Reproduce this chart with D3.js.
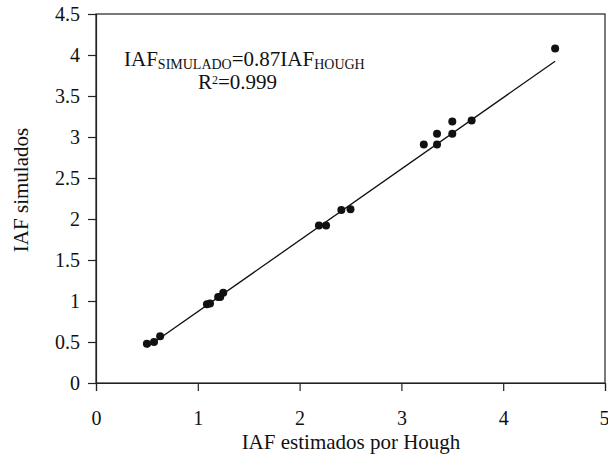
<!DOCTYPE html>
<html>
<head>
<meta charset="utf-8">
<script src="https://cdn.jsdelivr.net/npm/d3@7"></script>
<style>
  body { margin: 0; background: #fff; }
  svg text { font-family: 'Liberation Serif', 'Times New Roman', serif; fill: #111; }
</style>
</head>
<body>
<div id="chart"></div>
<script>
// IAF estimated by Hough vs simulated
var hough    = [0.50, 0.57, 0.63, 1.09, 1.12, 1.20, 1.22, 1.25, 2.19, 2.26, 2.41, 2.50, 3.22, 3.35, 3.35, 3.50, 3.50, 3.69, 4.51];
var simulado = [0.48, 0.50, 0.57, 0.96, 0.97, 1.05, 1.05, 1.10, 1.92, 1.92, 2.11, 2.12, 2.91, 2.91, 3.04, 3.04, 3.19, 3.20, 4.08];
var slope = 0.87;
var xTicks = [0, 1, 2, 3, 4, 5];
var yTicks = [0, 0.5, 1, 1.5, 2, 2.5, 3, 3.5, 4, 4.5];

var margin = {top: 14, right: 3, bottom: 76, left: 96},
    W = 608, H = 459,
    width = W - margin.left - margin.right,
    height = H - margin.top - margin.bottom;

var svg = d3.select("#chart").append("svg")
    .attr("width", W)
    .attr("height", H);

var g = svg.append("g")
    .attr("transform", "translate(" + margin.left + "," + margin.top + ")");

var x = d3.scaleLinear().domain([0, 5]).range([0, width]);
var y = d3.scaleLinear().domain([0, 4.5]).range([height, 0]);

// frame
g.append("rect")
    .attr("width", width)
    .attr("height", height)
    .attr("fill", "none")
    .attr("stroke", "#222")
    .attr("stroke-width", 1.2);

var xAxis = g.append("g")
    .attr("transform", "translate(0," + height + ")")
    .call(d3.axisBottom(x).tickValues(xTicks).tickSize(8).tickPadding(20).tickFormat(d3.format("")));
var yAxis = g.append("g")
    .call(d3.axisLeft(y).tickValues(yTicks).tickSize(8).tickPadding(8).tickFormat(d3.format("")));

[xAxis, yAxis].forEach(function(a) {
  a.attr("font-family", "'Liberation Serif', serif").attr("font-size", 20);
  a.select(".domain").attr("stroke", "#222").attr("stroke-width", 1.2);
  a.selectAll(".tick line").attr("stroke", "#222").attr("stroke-width", 1.2);
  a.selectAll("text").attr("fill", "#111");
});
// keep the last x label inside the window
xAxis.selectAll(".tick text")
    .filter(function(d) { return d === 5; })
    .attr("text-anchor", "end")
    .attr("x", 4);

// regression line
var xr = d3.extent(hough);
g.append("line")
    .attr("x1", x(xr[0])).attr("y1", y(slope * xr[0]))
    .attr("x2", x(xr[1])).attr("y2", y(slope * xr[1]))
    .attr("stroke", "#111")
    .attr("stroke-width", 1.3);

// points
g.selectAll("circle")
    .data(hough)
  .enter().append("circle")
    .attr("cx", function(d) { return x(d); })
    .attr("cy", function(d, i) { return y(simulado[i]); })
    .attr("r", 4)
    .attr("fill", "#111");

// annotation
var eq = svg.append("text")
    .attr("x", 124)
    .attr("y", 66)
    .style("font-size", "21px");
eq.append("tspan").text("IAF");
eq.append("tspan").attr("dy", 3).style("font-size", "14px").text("SIMULADO");
eq.append("tspan").attr("dy", -3).text("=0.87IAF");
eq.append("tspan").attr("dy", 3).style("font-size", "14px").text("HOUGH");

var r2 = svg.append("text")
    .attr("x", 198)
    .attr("y", 89)
    .style("font-size", "21px");
r2.append("tspan").text("R");
r2.append("tspan").attr("dy", -5).style("font-size", "12px").text("2");
r2.append("tspan").attr("dy", 5).text("=0.999");

// axis titles
svg.append("text")
    .attr("x", 351)
    .attr("y", 449)
    .attr("text-anchor", "middle")
    .style("font-size", "21px")
    .text("IAF estimados por Hough");

svg.append("text")
    .attr("transform", "translate(28,190) rotate(-90)")
    .attr("text-anchor", "middle")
    .style("font-size", "21px")
    .text("IAF simulados");
</script>
</body>
</html>
